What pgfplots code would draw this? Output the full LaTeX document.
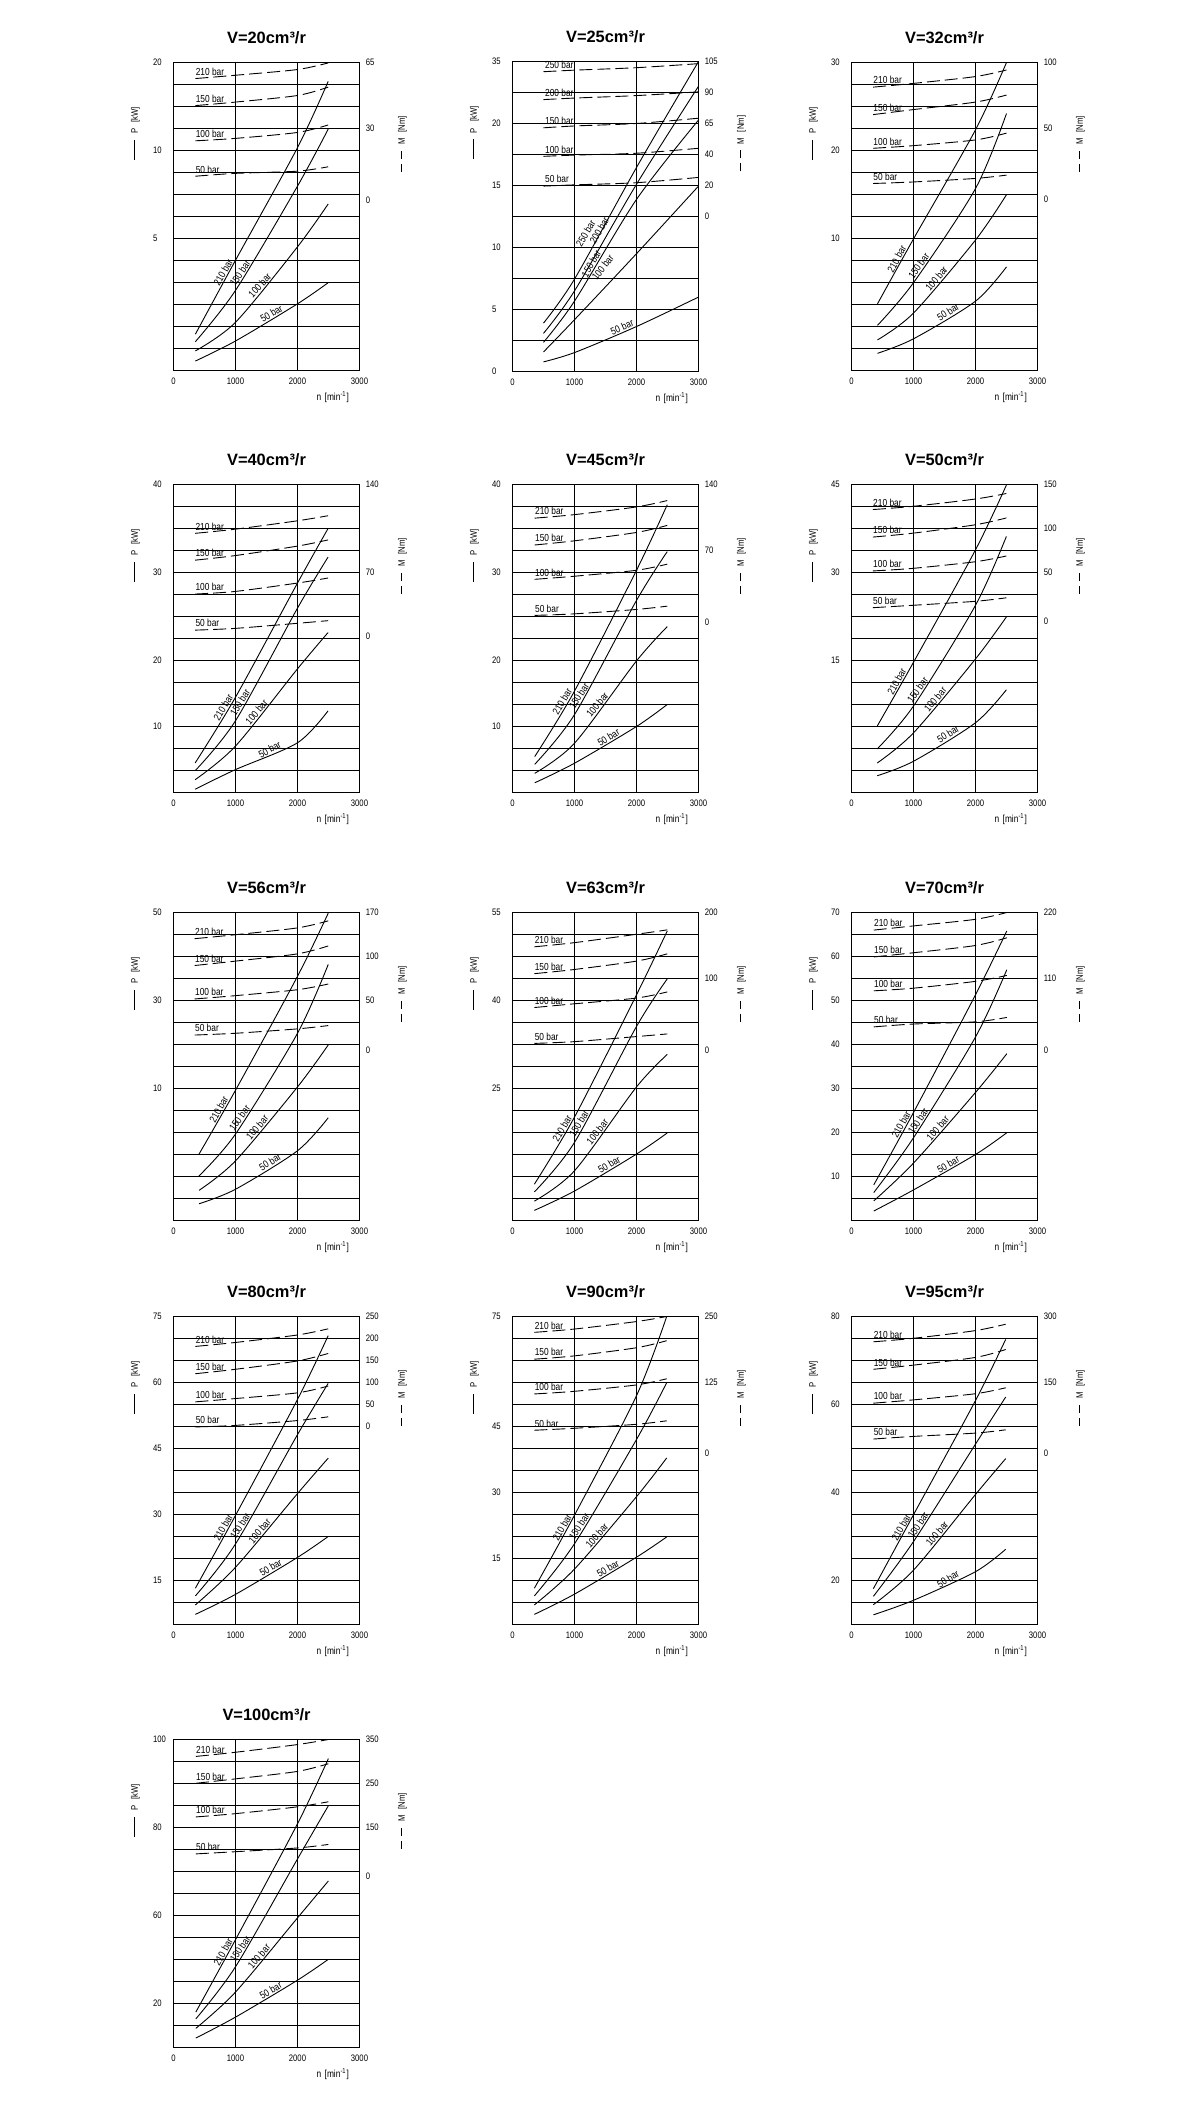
\documentclass[border=0pt]{standalone}
\usepackage{fontspec}
\setmainfont{Liberation Sans}
\newfontfamily\tkf[FakeStretch=0.82]{Liberation Sans}
\usepackage{pgfplots}
\pgfplotsset{compat=1.18}
\newcommand\tk{\tkf\fontsize{4.7pt}{5pt}\selectfont}
\newcommand\lb{\tkf\fontsize{5.1pt}{6pt}\selectfont}
\newcommand\ttl{\bfseries\fontsize{8.2pt}{9pt}\selectfont}
\pgfplotsset{panel/.style={
  scale only axis, width=93pt, height=154pt, anchor=south west,
  xmin=0,xmax=3000,ymin=0,ymax=14,
  xtick={1000,2000}, ytick={1,...,13}, xticklabels={}, yticklabels={},
  xmajorgrids, ymajorgrids, major tick length=0pt,
  grid style={black,line width=0.6pt},
  axis line style={black,line width=0.6pt},
  clip=false}}
\newcommand\Sc[1]{\addplot[black,line width=0.45pt,smooth] coordinates {#1};}
\newcommand\Dc[1]{\addplot[black,line width=0.45pt,smooth,dash pattern=on 6.5pt off 2.5pt] coordinates {#1};}
\newcommand\CL[4]{\node[font=\lb,rotate=#4,anchor=south,inner sep=0.4pt] at (axis cs:#1,#2) {#3 bar};}
\newcommand\CC[4]{\node[font=\lb,rotate=#4,inner sep=0pt] at (axis cs:#1,#2) {#3 bar};}
\newcommand\DL[3]{\node[font=\lb,anchor=base west,inner sep=0pt] at ([yshift=1.6pt]axis cs:#1,#2) {#3 bar};}
\newcommand\Lt[2]{\node[font=\tk,anchor=west,inner sep=0pt] at ([xshift=-10.4pt]axis cs:0,#1) {#2};}
\newcommand\Rt[2]{\node[font=\tk,anchor=west,inner sep=0pt] at ([xshift=3pt]axis cs:3000,#1) {#2};}
\newcommand\Frame[1]{%
 \node[font=\ttl] at ([yshift=12.6pt]rel axis cs:0.5,1) {#1};
 \node[font=\tk,inner sep=0pt] at ([yshift=-5.35pt]axis cs:0,0) {0};
 \node[font=\tk,inner sep=0pt] at ([yshift=-5.35pt]axis cs:1000,0) {1000};
 \node[font=\tk,inner sep=0pt] at ([yshift=-5.35pt]axis cs:2000,0) {2000};
 \node[font=\tk,inner sep=0pt] at ([yshift=-5.35pt]axis cs:3000,0) {3000};
 \node[font=\lb,inner sep=0pt] at ([yshift=-13.5pt]axis cs:2570,0) {n\,\,[min\textsuperscript{-1}]};
 \node[font=\tk,rotate=90,inner sep=0pt] at ([xshift=-19pt]rel axis cs:0,0.77) {\rule[1.3pt]{10pt}{0.45pt}\hspace{3pt}P\hspace{3pt}[kW]};
 \node[font=\tk,rotate=90,inner sep=0pt] at ([xshift=21.5pt]rel axis cs:1,0.735) {\rule[1.3pt]{4pt}{0.45pt}\hspace{2.5pt}\rule[1.3pt]{4pt}{0.45pt}\hspace{3pt}M\hspace{3pt}[Nm]};
}
\begin{document}
\begin{tikzpicture}
\path[use as bounding box] (0,0) rectangle (600pt,1058pt);
% ---------------- V=20
\begin{axis}[panel, at={(86.75pt,872.75pt)}]
\Frame{V=20cm³/r}
\Lt{14}{20}\Lt{10}{10}\Lt{6}{5}
\Rt{14}{65}\Rt{11}{30}\Rt{7.75}{0}
\Sc{(353,1.65)(1000,5.01)(2000,10.13)(2495,13.14)}
\Sc{(353,1.31)(1000,3.64)(2000,8.38)(2495,10.97)}
\Sc{(353,0.89)(1000,2.19)(2000,5.62)(2495,7.57)}
\Sc{(353,0.43)(1000,1.34)(2000,3.03)(2495,3.99)}
\Dc{(353,13.27)(1000,13.42)(2000,13.68)(2495,13.98)}
\Dc{(353,12.04)(1000,12.2)(2000,12.5)(2495,12.88)}
\Dc{(353,10.44)(1000,10.55)(2000,10.82)(2495,11.16)}
\Dc{(353,8.83)(1000,8.96)(2000,9.06)(2495,9.26)}
\CL{870}{4.33}{210}{61}\CL{1140}{4.30}{150}{56}\CL{1450}{3.73}{100}{48}\CL{1620}{2.39}{50}{31}
\DL{353}{13.27}{210}\DL{353}{12.04}{150}\DL{353}{10.44}{100}\DL{353}{8.83}{50}
\end{axis}
% ---------------- V=25
\begin{axis}[panel, at={(256.25pt,872.25pt)}, height=155pt, ymax=10, ytick={1,...,9}]
\Frame{V=25cm³/r}
\Lt{10}{35}\Lt{8}{20}\Lt{6}{15}\Lt{4}{10}\Lt{2}{5}\Lt{0}{0}
\Rt{10}{105}\Rt{9}{90}\Rt{8}{65}\Rt{7}{40}\Rt{6}{20}\Rt{5}{0}
\Sc{(500,1.56)(1000,2.98)(2000,6.58)(3000,10.0)}
\Sc{(500,1.23)(1000,2.6)(2000,6.04)(3000,9.2)}
\Sc{(500,0.94)(1000,2.27)(2000,5.55)(3000,8.11)}
\Sc{(500,0.63)(1000,1.67)(2000,3.8)(3000,5.98)}
\Sc{(500,0.31)(1000,0.61)(2000,1.45)(3000,2.40)}
\Dc{(500,9.67)(1000,9.72)(2000,9.8)(3000,9.93)}
\Dc{(500,8.77)(1000,8.82)(2000,8.9)(3000,9.02)}
\Dc{(500,7.86)(1000,7.92)(2000,8.0)(3000,8.17)}
\Dc{(500,6.94)(1000,6.98)(2000,7.04)(3000,7.2)}
\Dc{(500,5.98)(1000,6.02)(2000,6.09)(3000,6.26)}
\CC{1180}{4.45}{250}{60}\CC{1400}{4.56}{200}{60}\CC{1270}{3.47}{150}{60}\CC{1456}{3.36}{100}{52}\CL{1800}{1.28}{50}{24}
\DL{520}{9.67}{250}\DL{520}{8.77}{200}\DL{520}{7.86}{150}\DL{520}{6.94}{100}\DL{520}{5.98}{50}
\end{axis}
% ---------------- V=32
\begin{axis}[panel, at={(425.75pt,872.75pt)}]
\Frame{V=32cm³/r}
\Lt{14}{30}\Lt{10}{20}\Lt{6}{10}
\Rt{14}{100}\Rt{11}{50}\Rt{7.76}{0}
\Sc{(419,3.03)(1000,5.98)(2000,10.94)(2500,14.0)}
\Sc{(419,2.05)(1000,3.99)(2000,8.27)(2500,11.68)}
\Sc{(419,1.39)(1000,2.61)(2000,5.93)(2500,7.99)}
\Sc{(419,0.78)(1000,1.44)(2000,3.15)(2500,4.71)}
\Dc{(348,12.88)(1000,13.05)(2000,13.36)(2500,13.66)}
\Dc{(348,11.63)(1000,11.86)(2000,12.2)(2500,12.52)}
\Dc{(348,10.1)(1000,10.22)(2000,10.48)(2500,10.79)}
\Dc{(348,8.5)(1000,8.57)(2000,8.73)(2500,8.88)}
\CL{800}{4.96}{210}{61}\CL{1150}{4.63}{150}{55}\CL{1430}{4.04}{100}{50}\CL{1600}{2.47}{50}{33}
\DL{348}{12.88}{210}\DL{348}{11.63}{150}\DL{348}{10.1}{100}\DL{348}{8.5}{50}
\end{axis}
% ---------------- V=40
\begin{axis}[panel, at={(86.75pt,661.75pt)}]
\Frame{V=40cm³/r}
\Lt{14}{40}\Lt{10}{30}\Lt{6}{20}\Lt{3}{10}
\Rt{14}{140}\Rt{10}{70}\Rt{7.08}{0}
\Sc{(349,1.34)(1000,4.33)(2000,9.52)(2493,12.0)}
\Sc{(349,0.99)(1000,3.26)(2000,8.38)(2493,10.7)}
\Sc{(349,0.58)(1000,2.11)(2000,5.62)(2493,7.27)}
\Sc{(349,0.15)(1000,1.04)(2000,2.26)(2493,3.71)}
\Dc{(349,11.78)(1000,11.97)(2000,12.35)(2493,12.58)}
\Dc{(349,10.56)(1000,10.77)(2000,11.2)(2493,11.48)}
\Dc{(349,9.02)(1000,9.14)(2000,9.52)(2493,9.75)}
\Dc{(349,7.38)(1000,7.46)(2000,7.69)(2493,7.81)}
\CL{870}{3.73}{210}{59}\CL{1140}{3.98}{150}{58}\CL{1400}{3.51}{100}{50}\CL{1590}{1.76}{50}{29}
\DL{349}{11.78}{210}\DL{349}{10.56}{150}\DL{349}{9.02}{100}\DL{349}{7.38}{50}
\end{axis}
% ---------------- V=45
\begin{axis}[panel, at={(256.25pt,661.75pt)}]
\Frame{V=45cm³/r}
\Lt{14}{40}\Lt{10}{30}\Lt{6}{20}\Lt{3}{10}
\Rt{14}{140}\Rt{11}{70}\Rt{7.74}{0}
\Sc{(358,1.63)(1000,4.61)(2000,10.1)(2496,13.08)}
\Sc{(358,1.28)(1000,3.54)(2000,8.73)(2496,10.95)}
\Sc{(358,0.87)(1000,2.24)(2000,5.98)(2496,7.54)}
\Sc{(358,0.44)(1000,1.33)(2000,3.0)(2496,4.0)}
\Dc{(358,12.47)(1000,12.63)(2000,12.98)(2496,13.27)}
\Dc{(358,11.25)(1000,11.44)(2000,11.82)(2496,12.14)}
\Dc{(358,9.69)(1000,9.83)(2000,10.1)(2496,10.38)}
\Dc{(358,8.05)(1000,8.12)(2000,8.32)(2496,8.47)}
\CL{870}{4.01}{210}{60}\CL{1140}{4.27}{150}{58}\CL{1430}{3.85}{100}{51}\CL{1590}{2.32}{50}{31}
\DL{358}{12.47}{210}\DL{358}{11.25}{150}\DL{358}{9.69}{100}\DL{358}{8.05}{50}
\end{axis}
% ---------------- V=50
\begin{axis}[panel, at={(425.75pt,661.75pt)}]
\Frame{V=50cm³/r}
\Lt{14}{45}\Lt{10}{30}\Lt{6}{15}
\Rt{14}{150}\Rt{12}{100}\Rt{10}{50}\Rt{7.78}{0}
\Sc{(415,3.02)(1000,5.92)(2000,11.03)(2498,13.97)}
\Sc{(415,1.98)(1000,3.93)(2000,8.51)(2498,11.64)}
\Sc{(415,1.34)(1000,2.71)(2000,6.07)(2498,7.98)}
\Sc{(415,0.76)(1000,1.42)(2000,3.17)(2498,4.67)}
\Dc{(344,12.86)(1000,13.01)(2000,13.34)(2498,13.59)}
\Dc{(344,11.61)(1000,11.79)(2000,12.17)(2498,12.48)}
\Dc{(344,10.07)(1000,10.19)(2000,10.49)(2498,10.75)}
\Dc{(344,8.4)(1000,8.51)(2000,8.69)(2498,8.85)}
\CL{800}{4.93}{210}{61}\CL{1130}{4.53}{150}{55}\CL{1410}{4.09}{100}{50}\CL{1600}{2.47}{50}{33}
\DL{344}{12.86}{210}\DL{344}{11.61}{150}\DL{344}{10.07}{100}\DL{344}{8.4}{50}
\end{axis}
% ---------------- V=56
\begin{axis}[panel, at={(86.75pt,447.75pt)}]
\Frame{V=56cm³/r}
\Lt{14}{50}\Lt{10}{30}\Lt{6}{10}
\Rt{14}{170}\Rt{12}{100}\Rt{10}{50}\Rt{7.75}{0}
\Sc{(412,3.02)(1000,5.92)(2000,11.1)(2496,13.97)}
\Sc{(412,2.03)(1000,3.93)(2000,8.51)(2496,11.64)}
\Sc{(412,1.37)(1000,2.71)(2000,6.07)(2496,7.98)}
\Sc{(412,0.76)(1000,1.42)(2000,3.17)(2496,4.67)}
\Dc{(342,12.81)(1000,12.99)(2000,13.3)(2496,13.62)}
\Dc{(342,11.59)(1000,11.79)(2000,12.12)(2496,12.48)}
\Dc{(342,10.07)(1000,10.22)(2000,10.49)(2496,10.75)}
\Dc{(342,8.43)(1000,8.51)(2000,8.71)(2496,8.86)}
\CL{800}{4.94}{210}{61}\CL{1130}{4.53}{150}{55}\CL{1410}{4.09}{100}{50}\CL{1600}{2.47}{50}{33}
\DL{342}{12.81}{210}\DL{342}{11.59}{150}\DL{342}{10.07}{100}\DL{342}{8.43}{50}
\end{axis}
% ---------------- V=63
\begin{axis}[panel, at={(256.25pt,447.75pt)}]
\Frame{V=63cm³/r}
\Lt{14}{55}\Lt{10}{40}\Lt{6}{25}
\Rt{14}{200}\Rt{11}{100}\Rt{7.75}{0}
\Sc{(353,1.65)(1000,4.7)(2000,10.26)(2496,13.16)}
\Sc{(353,1.3)(1000,3.55)(2000,8.82)(2496,10.98)}
\Sc{(353,0.88)(1000,2.26)(2000,6.07)(2496,7.55)}
\Sc{(353,0.46)(1000,1.34)(2000,3.02)(2496,3.98)}
\Dc{(353,12.44)(1000,12.63)(2000,13.01)(2496,13.21)}
\Dc{(353,11.22)(1000,11.41)(2000,11.79)(2496,12.12)}
\Dc{(353,9.68)(1000,9.85)(2000,10.11)(2496,10.39)}
\Dc{(353,8.05)(1000,8.13)(2000,8.36)(2496,8.48)}
\CL{870}{4.09}{210}{60}\CL{1140}{4.29}{150}{59}\CL{1430}{3.9}{100}{52}\CL{1600}{2.35}{50}{31}
\DL{353}{12.44}{210}\DL{353}{11.22}{150}\DL{353}{9.68}{100}\DL{353}{8.05}{50}
\end{axis}
% ---------------- V=70
\begin{axis}[panel, at={(425.75pt,447.75pt)}]
\Frame{V=70cm³/r}
\Lt{14}{70}\Lt{12}{60}\Lt{10}{50}\Lt{8}{40}\Lt{6}{30}\Lt{4}{20}\Lt{2}{10}
\Rt{14}{220}\Rt{11}{110}\Rt{7.76}{0}
\Sc{(359,1.62)(1000,4.91)(2000,10.26)(2505,13.16)}
\Sc{(359,1.27)(1000,3.76)(2000,8.34)(2505,11.4)}
\Sc{(359,0.89)(1000,2.61)(2000,5.82)(2505,7.58)}
\Sc{(359,0.43)(1000,1.39)(2000,3.0)(2505,3.99)}
\Dc{(359,13.2)(1000,13.39)(2000,13.69)(2505,14.0)}
\Dc{(359,11.98)(1000,12.17)(2000,12.5)(2505,12.85)}
\Dc{(359,10.44)(1000,10.56)(2000,10.87)(2505,11.14)}
\Dc{(359,8.8)(1000,8.93)(2000,9.03)(2505,9.23)}
\CL{870}{4.24}{210}{61}\CL{1140}{4.40}{150}{57}\CL{1450}{4.05}{100}{49}\CL{1600}{2.36}{50}{30}
\DL{359}{13.2}{210}\DL{359}{11.98}{150}\DL{359}{10.44}{100}\DL{359}{8.8}{50}
\end{axis}
% ---------------- V=80
\begin{axis}[panel, at={(86.75pt,245.75pt)}]
\Frame{V=80cm³/r}
\Lt{14}{75}\Lt{11}{60}\Lt{8}{45}\Lt{5}{30}\Lt{2}{15}
\Rt{14}{250}\Rt{13}{200}\Rt{12}{150}\Rt{11}{100}\Rt{10}{50}\Rt{9}{0}
\Sc{(353,1.65)(1000,4.96)(2000,10.23)(2495,13.13)}
\Sc{(353,1.3)(1000,3.66)(2000,8.63)(2495,10.96)}
\Sc{(353,0.89)(1000,2.6)(2000,5.95)(2495,7.56)}
\Sc{(353,0.46)(1000,1.37)(2000,3.05)(2495,4.0)}
\Dc{(353,12.64)(1000,12.82)(2000,13.16)(2495,13.44)}
\Dc{(353,11.4)(1000,11.6)(2000,11.98)(2495,12.32)}
\Dc{(353,10.12)(1000,10.27)(2000,10.53)(2495,10.84)}
\Dc{(353,8.98)(1000,9.05)(2000,9.27)(2495,9.44)}
\CL{870}{4.29}{210}{61}\CL{1140}{4.36}{150}{58}\CL{1450}{4.11}{100}{50}\CL{1610}{2.39}{50}{31}
\DL{353}{12.64}{210}\DL{353}{11.4}{150}\DL{353}{10.12}{100}\DL{353}{8.98}{50}
\end{axis}
% ---------------- V=90
\begin{axis}[panel, at={(256.25pt,245.75pt)}]
\Frame{V=90cm³/r}
\Lt{14}{75}\Lt{9}{45}\Lt{6}{30}\Lt{3}{15}
\Rt{14}{250}\Rt{11}{125}\Rt{7.77}{0}
\Sc{(353,1.65)(1000,4.97)(2000,10.4)(2487,14.0)}
\Sc{(353,1.3)(1000,3.67)(2000,8.41)(2487,10.99)}
\Sc{(353,0.89)(1000,2.52)(2000,5.81)(2487,7.57)}
\Sc{(353,0.46)(1000,1.38)(2000,3.06)(2487,3.98)}
\Dc{(353,13.28)(1000,13.43)(2000,13.77)(2487,14.0)}
\Dc{(353,12.06)(1000,12.21)(2000,12.58)(2487,12.9)}
\Dc{(353,10.48)(1000,10.6)(2000,10.89)(2487,11.17)}
\Dc{(353,8.83)(1000,8.92)(2000,9.1)(2487,9.26)}
\CL{870}{4.30}{210}{61}\CL{1140}{4.33}{150}{57}\CL{1420}{3.90}{100}{49}\CL{1580}{2.35}{50}{31}
\DL{353}{13.28}{210}\DL{353}{12.06}{150}\DL{353}{10.48}{100}\DL{353}{8.83}{50}
\end{axis}
% ---------------- V=95
\begin{axis}[panel, at={(425.75pt,245.75pt)}]
\Frame{V=95cm³/r}
\Lt{14}{80}\Lt{10}{60}\Lt{6}{40}\Lt{2}{20}
\Rt{14}{300}\Rt{11}{150}\Rt{7.77}{0}
\Sc{(353,1.63)(1000,4.99)(2000,10.18)(2487,12.96)}
\Sc{(353,1.28)(1000,3.77)(2000,8.2)(2487,10.34)}
\Sc{(353,0.9)(1000,2.47)(2000,5.91)(2487,7.54)}
\Sc{(353,0.44)(1000,1.1)(2000,2.4)(2487,3.42)}
\Dc{(353,12.85)(1000,13.01)(2000,13.36)(2487,13.65)}
\Dc{(353,11.6)(1000,11.79)(2000,12.14)(2487,12.5)}
\Dc{(353,10.06)(1000,10.21)(2000,10.49)(2487,10.76)}
\Dc{(353,8.43)(1000,8.55)(2000,8.7)(2487,8.85)}
\CL{870}{4.31}{210}{61}\CL{1140}{4.39}{150}{56}\CL{1440}{3.98}{100}{50}\CL{1600}{1.88}{50}{33}
\DL{353}{12.85}{210}\DL{353}{11.6}{150}\DL{353}{10.06}{100}\DL{353}{8.43}{50}
\end{axis}
% ---------------- V=100
\begin{axis}[panel, at={(86.75pt,34.25pt)}]
\Frame{V=100cm³/r}
\Lt{14}{100}\Lt{10}{80}\Lt{6}{60}\Lt{2}{20}
\Rt{14}{350}\Rt{12}{250}\Rt{10}{150}\Rt{7.77}{0}
\Sc{(360,1.61)(1000,4.9)(2000,10.17)(2498,13.13)}
\Sc{(360,1.3)(1000,3.67)(2000,8.57)(2498,10.99)}
\Sc{(360,0.87)(1000,2.52)(2000,5.89)(2498,7.57)}
\Sc{(360,0.43)(1000,1.38)(2000,3.06)(2498,4.01)}
\Dc{(360,13.23)(1000,13.42)(2000,13.77)(2498,14.0)}
\Dc{(360,12.01)(1000,12.21)(2000,12.55)(2498,12.9)}
\Dc{(360,10.48)(1000,10.63)(2000,10.94)(2498,11.17)}
\Dc{(360,8.8)(1000,8.9)(2000,9.07)(2498,9.23)}
\CL{870}{4.23}{210}{61}\CL{1140}{4.36}{150}{57}\CL{1440}{4.0}{100}{50}\CL{1610}{2.4}{50}{31}
\DL{360}{13.23}{210}\DL{360}{12.01}{150}\DL{360}{10.48}{100}\DL{360}{8.8}{50}
\end{axis}
\end{tikzpicture}
\end{document}
